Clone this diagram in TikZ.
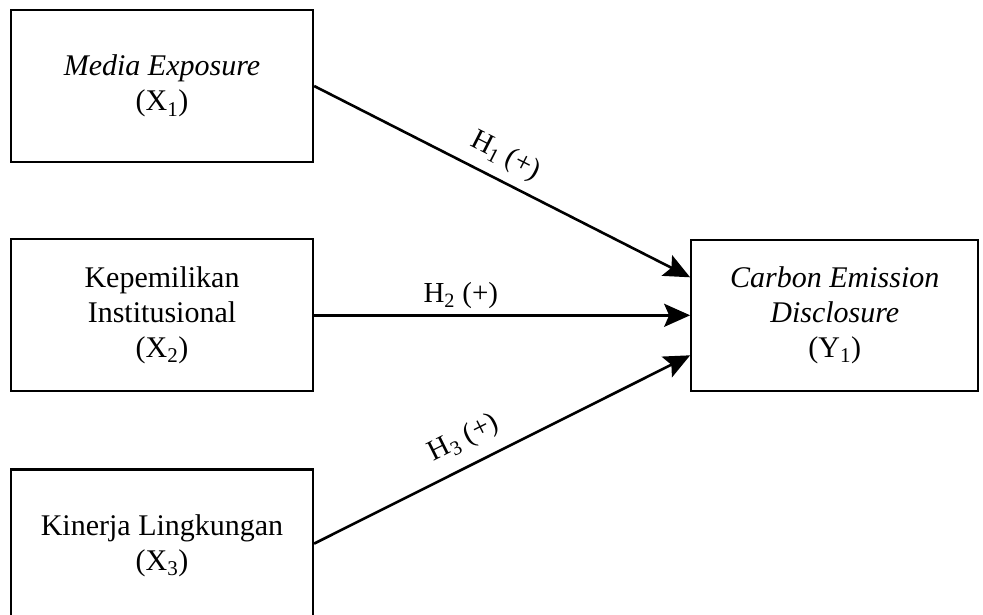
\documentclass[tikz,border=0pt]{standalone}
\usepackage{fontspec}
\setmainfont{Liberation Serif}
\usetikzlibrary{positioning,arrows.meta}

\begin{document}
\begin{tikzpicture}[x=1pt, y=1pt, node distance=75pt,
    every node/.style={font=\fontsize{30}{35}\selectfont},
    varbox/.style={draw, line width=2.3pt, minimum width=302pt, minimum height=152pt, align=center, inner sep=0pt},
    hyp/.style={-{Stealth[length=26pt, width=23pt, inset=5pt]}, line width=2.6pt},
    hyplabel/.style={font=\fontsize{29}{33}\selectfont}]

        \useasboundingbox (0,0) rectangle (983,-614);

        \node (x1) [varbox] at (162,-86) {\textit{Media Exposure}\\(X\textsubscript{1})};

        \node (x2) [varbox, below=75pt of x1] {Kepemilikan\\Institusional\\(X\textsubscript{2})};

        \node (x3) [varbox, below=76pt of x2] {Kinerja Lingkungan\\(X\textsubscript{3})};

        \node (y1) [varbox, minimum width=287pt, minimum height=151pt, right=376pt of x2] {\textit{Carbon Emission}\\\textit{Disclosure}\\(Y\textsubscript{1})};

        \draw [hyp] (x1.east) -- node [pos=0.48, above=6pt, sloped, hyplabel] {H\textsubscript{1} (+)} ([yshift=38pt]y1.west);
        \draw [hyp] (x2.east) -- node [pos=0.39, above=2pt, hyplabel] {H\textsubscript{2} (+)} (y1.west);
        \draw [hyp] ([yshift=2pt]x3.east) -- node [pos=0.43, above=9pt, sloped, hyplabel] {H\textsubscript{3} (+)} ([yshift=-40pt]y1.west);

    \end{tikzpicture}
\end{document}
